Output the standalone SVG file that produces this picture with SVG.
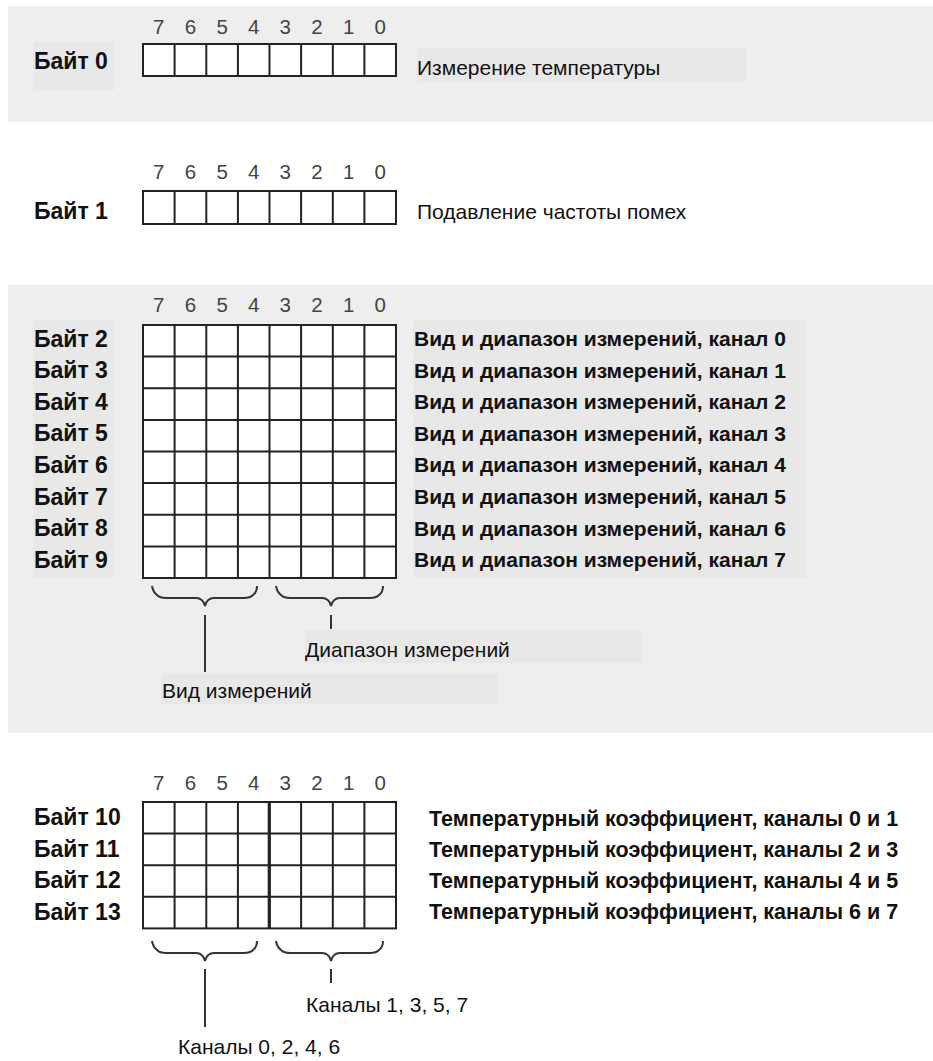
<svg xmlns="http://www.w3.org/2000/svg" width="933" height="1061" viewBox="0 0 933 1061">
<style>
.panel{fill:#eeeeee}
.tbg{fill:#e8e8e8}
.cell{fill:#ffffff;stroke:#222;stroke-width:2}
.gl{fill:none;stroke:#222;stroke-width:2}
.bit{font-family:"Liberation Sans",Arial,sans-serif;font-size:20.5px;fill:#444;text-anchor:middle}
.lbl{font-family:"Liberation Sans",Arial,sans-serif;font-size:23px;font-weight:bold;fill:#111}
.dsc{font-family:"Liberation Sans",Arial,sans-serif;font-size:21px;font-weight:bold;fill:#111}
.dsc2{font-family:"Liberation Sans",Arial,sans-serif;font-size:21.5px;font-weight:bold;fill:#111}
.reg{font-family:"Liberation Sans",Arial,sans-serif;font-size:21px;fill:#111}
.br{fill:none;stroke:#333;stroke-width:2}
</style>
<defs>
<g id="bits">
<text x="158.8" y="0" class="bit">7</text><text x="190.4" y="0" class="bit">6</text><text x="222.1" y="0" class="bit">5</text><text x="253.7" y="0" class="bit">4</text><text x="285.3" y="0" class="bit">3</text><text x="316.9" y="0" class="bit">2</text><text x="348.6" y="0" class="bit">1</text><text x="380.2" y="0" class="bit">0</text>
</g>
</defs>

<g id="backgrounds">
<rect class="panel" x="8" y="6" width="925" height="116"/>
<rect class="panel" x="8" y="285" width="925" height="448"/>
</g>

<g id="byte0">
<rect class="tbg" x="33" y="42" width="81" height="49"/>
<rect class="tbg" x="417" y="48" width="330" height="33"/>
<use href="#bits" y="33.5"/>
<rect class="cell" x="143" y="44" width="253" height="32"/>
<path class="gl" d="M174.6,44V76M206.3,44V76M237.9,44V76M269.5,44V76M301.1,44V76M332.8,44V76M364.4,44V76"/>
<text class="lbl" x="34" y="69">Байт 0</text>
<text class="reg" x="417" y="75">Измерение температуры</text>
</g>

<g id="byte1">
<use href="#bits" y="178.5"/>
<rect class="cell" x="143" y="191" width="253" height="33"/>
<path class="gl" d="M174.6,191V224M206.3,191V224M237.9,191V224M269.5,191V224M301.1,191V224M332.8,191V224M364.4,191V224"/>
<text class="lbl" x="34" y="218.5">Байт 1</text>
<text class="reg" x="417" y="219">Подавление частоты помех</text>
</g>

<g id="bytes2-9">
<rect class="tbg" x="33" y="320" width="81" height="258"/>
<rect class="tbg" x="413" y="320" width="393" height="258"/>
<use href="#bits" y="311.5"/>
<rect class="cell" x="143" y="325" width="253" height="253"/>
<path class="gl" d="M174.6,325V578M206.3,325V578M237.9,325V578M269.5,325V578M301.1,325V578M332.8,325V578M364.4,325V578M143,356.6H396M143,388.3H396M143,419.9H396M143,451.5H396M143,483.1H396M143,514.8H396M143,546.4H396"/>
<text class="lbl" x="34" y="346.5">Байт 2</text>
<text class="lbl" x="34" y="378.1">Байт 3</text>
<text class="lbl" x="34" y="409.7">Байт 4</text>
<text class="lbl" x="34" y="441.3">Байт 5</text>
<text class="lbl" x="34" y="472.9">Байт 6</text>
<text class="lbl" x="34" y="504.5">Байт 7</text>
<text class="lbl" x="34" y="536.1">Байт 8</text>
<text class="lbl" x="34" y="567.7">Байт 9</text>
<text class="dsc" x="414" y="346">Вид и диапазон измерений, канал 0</text>
<text class="dsc" x="414" y="377.6">Вид и диапазон измерений, канал 1</text>
<text class="dsc" x="414" y="409.2">Вид и диапазон измерений, канал 2</text>
<text class="dsc" x="414" y="440.8">Вид и диапазон измерений, канал 3</text>
<text class="dsc" x="414" y="472.4">Вид и диапазон измерений, канал 4</text>
<text class="dsc" x="414" y="504">Вид и диапазон измерений, канал 5</text>
<text class="dsc" x="414" y="535.6">Вид и диапазон измерений, канал 6</text>
<text class="dsc" x="414" y="567.2">Вид и диапазон измерений, канал 7</text>
<rect class="tbg" x="305" y="630" width="337" height="33"/>
<text class="reg" x="305" y="657">Диапазон измерений</text>
<rect class="tbg" x="161" y="673" width="336" height="31"/>
<text class="reg" x="162" y="698">Вид измерений</text>
</g>

<g id="bytes10-13">
<use href="#bits" y="790"/>
<rect class="cell" x="143" y="802" width="253" height="126.4"/>
<path class="gl" d="M174.6,802V928.4M206.3,802V928.4M237.9,802V928.4M301.1,802V928.4M332.8,802V928.4M364.4,802V928.4M143,833.6H396M143,865.2H396M143,896.8H396"/>
<path d="M269.3,802V928.4" fill="none" stroke="#222" stroke-width="3.2"/>
<text class="lbl" x="34" y="825">Байт 10</text>
<text class="lbl" x="34" y="856.6">Байт 11</text>
<text class="lbl" x="34" y="888.2">Байт 12</text>
<text class="lbl" x="34" y="919.8">Байт 13</text>
<text class="dsc2" x="429" y="826">Температурный коэффициент, каналы 0 и 1</text>
<text class="dsc2" x="429" y="857">Температурный коэффициент, каналы 2 и 3</text>
<text class="dsc2" x="429" y="888">Температурный коэффициент, каналы 4 и 5</text>
<text class="dsc2" x="429" y="919">Температурный коэффициент, каналы 6 и 7</text>
<text class="reg" x="306" y="1012">Каналы 1, 3, 5, 7</text>
<text class="reg" x="178" y="1054">Каналы 0, 2, 4, 6</text>
</g>

<g id="connectors">
<path class="br" d="M152,586Q153,592 157,595Q160,598 166,598L196,598Q203,598 205,606Q207,598 214,598L244,598Q250,598 253,595Q257,592 257,586"/>
<path class="br" d="M276,586Q277,592 281,595Q284,598 290,598L322,598Q329,598 331,606Q333,598 340,598L370,598Q376,598 379,595Q383,592 383,586"/>
<path class="br" d="M205,615V672M331,615V629"/>
<path class="br" d="M152,941Q153,947 157,950Q160,953 166,953L196,953Q203,953 205,961Q207,953 214,953L244,953Q250,953 253,950Q257,947 257,941"/>
<path class="br" d="M276,941Q277,947 281,950Q284,953 290,953L322,953Q329,953 331,961Q333,953 340,953L370,953Q376,953 379,950Q383,947 383,941"/>
<path class="br" d="M205,969V1027M331,969V983"/>
</g>
</svg>
